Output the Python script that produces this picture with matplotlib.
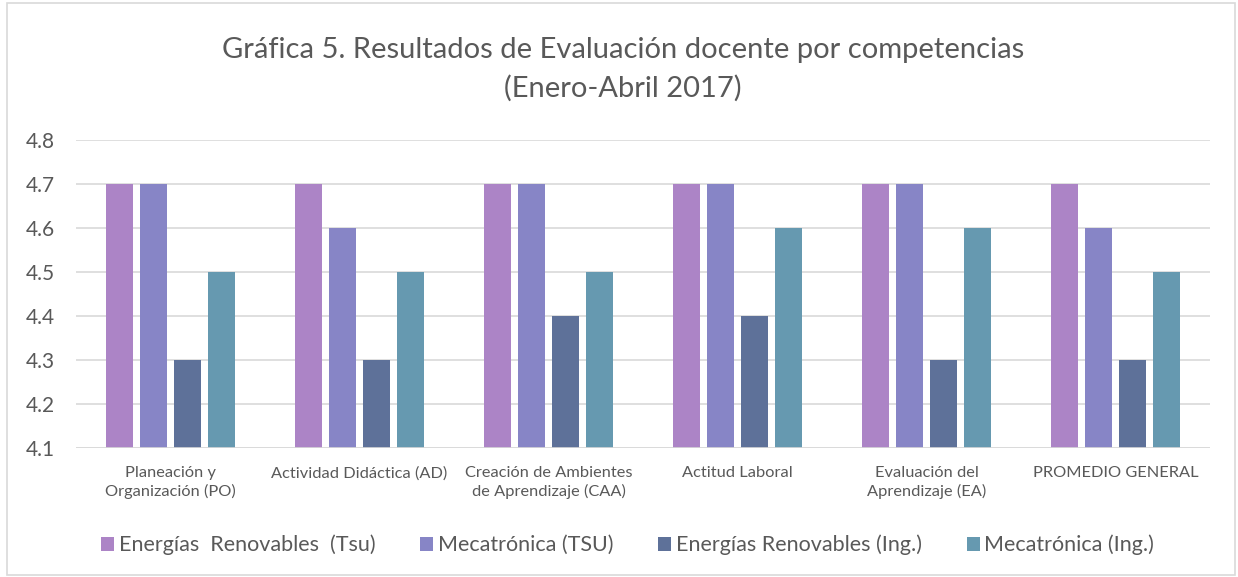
import matplotlib
matplotlib.use("Agg")
import matplotlib.pyplot as plt
import numpy as np
from matplotlib.patches import Rectangle

plt.rcParams['font.family'] = ['Lato', 'DejaVu Sans']

categories = ["Planeación y\nOrganización (PO)", "Actividad Didáctica (AD)",
              "Creación de Ambientes\nde Aprendizaje (CAA)", "Actitud Laboral",
              "Evaluación del\nAprendizaje (EA)", "PROMEDIO GENERAL"]
series_names = ["Energías  Renovables  (Tsu)", "Mecatrónica (TSU)",
                "Energías Renovables (Ing.)", "Mecatrónica (Ing.)"]
er_tsu = [4.7, 4.7, 4.7, 4.7, 4.7, 4.7]
mec_tsu = [4.7, 4.6, 4.7, 4.7, 4.7, 4.6]
er_ing = [4.3, 4.3, 4.4, 4.4, 4.3, 4.3]
mec_ing = [4.5, 4.5, 4.5, 4.6, 4.6, 4.5]
yticks = [4.1, 4.2, 4.3, 4.4, 4.5, 4.6, 4.7, 4.8]
colors = ["#AC84C6", "#8785C6", "#5E7199", "#6699B0"]

fig = plt.figure(figsize=(12.38, 5.77), dpi=100)
ax = fig.add_axes([76/1238, 1-448/577, (1210-76)/1238, (448-140)/577])

x = np.arange(len(categories))
step = 0.18
width = 0.143
offs = [-1.5, -0.5, 0.5, 1.5]
for vals, name, c, o in zip([er_tsu, mec_tsu, er_ing, mec_ing], series_names, colors, offs):
    ax.bar(x + o*step, np.array(vals) - 4.1, bottom=4.1, width=width, color=c, label=name, zorder=3)

ax.set_xlim(-0.5, len(categories)-0.5)
ax.set_ylim(4.1, 4.8)
ax.set_yticks(yticks)
ax.set_yticklabels([f"{v:.1f}" for v in yticks], fontsize=15, color="#595959")
ax.set_xticks(x)
ax.set_xticklabels(categories, fontsize=11.8, color="#595959", linespacing=1.3)
ax.tick_params(axis='both', length=0)
ax.tick_params(axis='x', pad=13)
ax.tick_params(axis='y', pad=15)
ax.grid(axis='y', color="#D9D9D9", linewidth=1.2, zorder=0)
for s in ax.spines.values():
    s.set_visible(False)
ax.axhline(4.1, color="#D9D9D9", linewidth=1.2, zorder=4)

fig.text(0.503, 1-50/577, "Gráfica 5. Resultados de Evaluación docente por competencias",
         ha='center', va='center', fontsize=21, color="#595959")
fig.text(0.503, 1-88/577, "(Enero-Abril 2017)",
         ha='center', va='center', fontsize=21, color="#595959")

leg = fig.legend(loc='center', bbox_to_anchor=(0.507, 1-545/577), ncol=4, frameon=False,
                 fontsize=15.5, handlelength=0.6, handleheight=0.6, handletextpad=0.2,
                 columnspacing=2.1, labelcolor="#595959")

fig.patches.append(Rectangle((7/1238, 2/577), 1228/1238, 572/577, transform=fig.transFigure,
                             fill=False, edgecolor="#D9D9D9", linewidth=1.2))

fig.savefig("out.png", dpi=100)
